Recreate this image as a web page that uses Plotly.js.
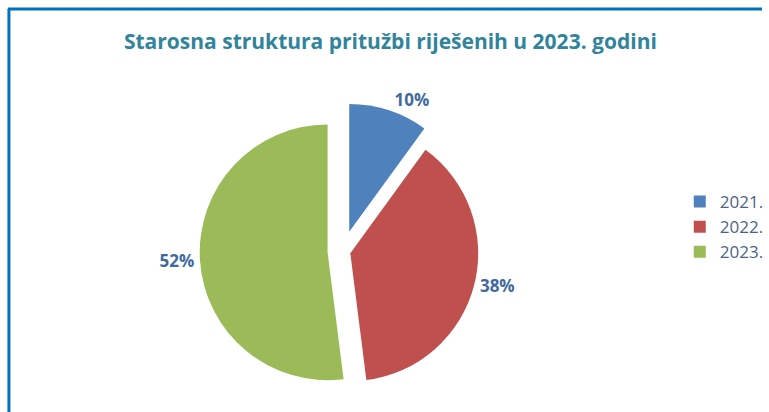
<!DOCTYPE html>
<html>
<head>
<meta charset="utf-8">
<script src="https://cdn.plot.ly/plotly-3.0.1.min.js"></script>
<style>
  html, body { margin: 0; padding: 0; background: #ffffff; }
  #chart { width: 769px; height: 412px; }
</style>
</head>
<body>
<div id="chart"></div>
<script>
// Data
const categories = ["2021.", "2022.", "2023."];
const shares = [10, 38, 52];
const sliceColors = ["#4F81BD", "#C0504D", "#9BBB59"];
const pulls = [0.16, 0.06, 0.12];
const chartTitle = "Starosna struktura pritužbi riješenih u 2023. godini";

const W = 769, H = 412;
const borderColor = "#0070C0";

const trace = {
  type: "pie",
  labels: categories,
  values: shares,
  sort: false,
  direction: "clockwise",
  rotation: 0,
  pull: pulls,
  marker: { colors: sliceColors, line: { color: "#ffffff", width: 0 } },
  textinfo: "percent",
  texttemplate: "%{percent:.0%}",
  textposition: "outside",
  outsidetextfont: { family: "Open Sans, sans-serif", size: 17, color: "#3F6A9E", weight: "bold" },
  hoverinfo: "label+percent",
  domain: { x: [0.06, 0.84], y: [0.03, 0.75] }
};

const layout = {
  width: W, height: H,
  margin: { l: 0, r: 0, t: 0, b: 0 },
  paper_bgcolor: "#ffffff",
  plot_bgcolor: "#ffffff",
  title: {
    text: "<b>" + chartTitle + "</b>",
    font: { family: "Open Sans, sans-serif", size: 21, color: "#31849B" },
    x: 394 / W, xanchor: "center",
    y: 1 - 42 / H, yanchor: "middle",
    xref: "paper", yref: "container"
  },
  showlegend: true,
  legend: {
    x: 686 / W, xanchor: "left",
    y: 1 - 184 / H, yanchor: "top",
    font: { family: "Open Sans, sans-serif", size: 17, color: "#4A6585" },
    bgcolor: "rgba(0,0,0,0)"
  },
  shapes: [
    { type: "line", xref: "paper", yref: "paper", x0: 9 / W, x1: 9 / W, y0: 0, y1: 1 - 9 / H,
      line: { color: borderColor, width: 3 } },
    { type: "line", xref: "paper", yref: "paper", x0: 8 / W, x1: 1, y0: 1 - 9 / H, y1: 1 - 9 / H,
      line: { color: borderColor, width: 3 } }
  ]
};

Plotly.newPlot("chart", [trace], layout, { displayModeBar: false, staticPlot: true });
</script>
</body>
</html>
